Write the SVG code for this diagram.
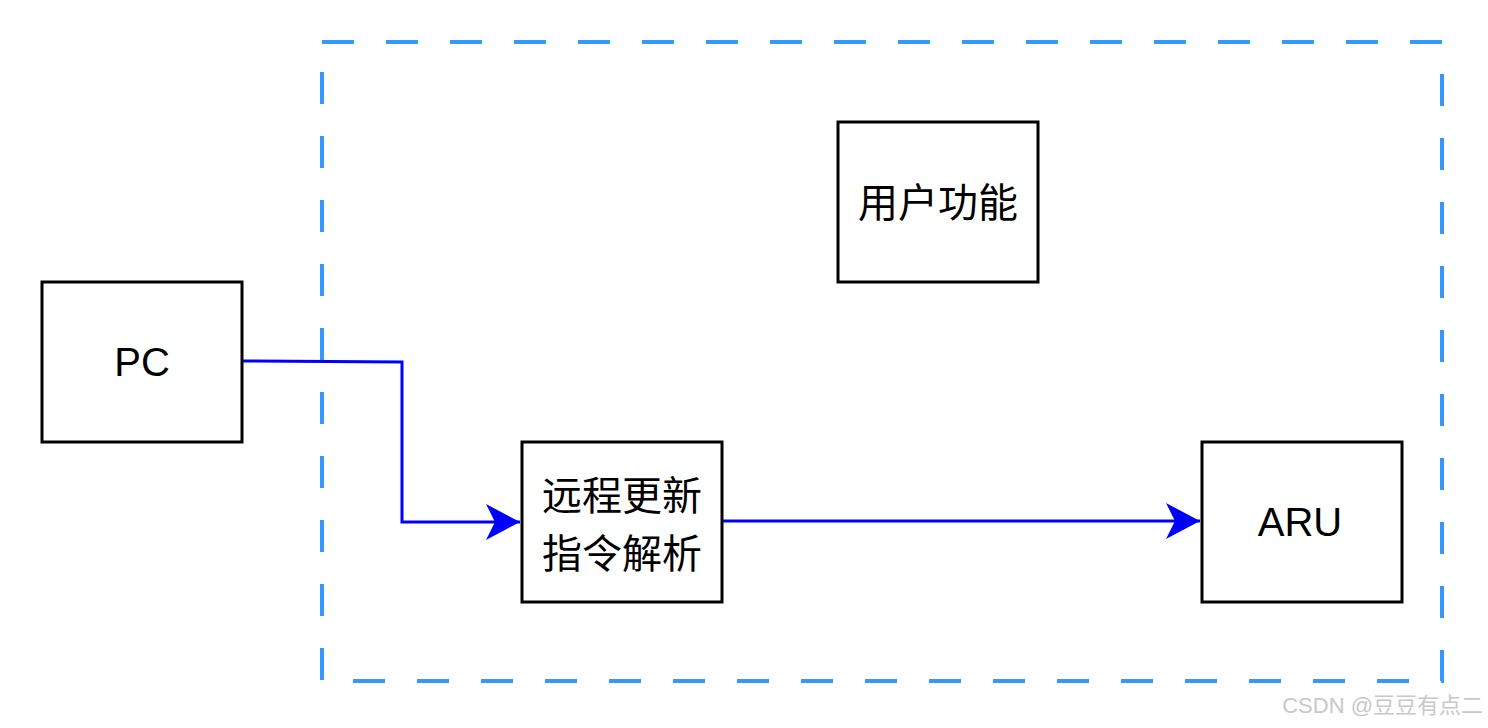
<svg xmlns="http://www.w3.org/2000/svg" width="1488" height="728" viewBox="0 0 1488 728">
<style>
.n{fill:#fff;stroke:#000;stroke-width:3}
.t{font-family:"Liberation Sans","Noto Sans CJK SC",sans-serif;font-size:40px;text-anchor:middle;fill:#000}
.c{fill:none;stroke:#0000ff;stroke-width:3}
</style>
<defs><marker id="a" markerWidth="12" markerHeight="12" refX="10" refY="6" orient="auto" markerUnits="userSpaceOnUse"><path d="M0,0 L12,6 L0,12 L3,6Z" fill="#0000ff"/></marker>
<marker id="b" markerWidth="36" markerHeight="36" refX="34" refY="18" orient="auto" markerUnits="userSpaceOnUse"><path d="M0,0 L34,18 L0,36 L9,18Z" fill="#0000ff"/></marker></defs>
<rect width="1488" height="728" fill="#fff"/>
<rect id="frame" x="322" y="42" width="1120" height="639" fill="none" stroke="#3399ff" stroke-width="4" stroke-dasharray="32 32"/>
<g id="user"><rect class="n" x="838" y="122" width="200" height="160"/><text class="t" x="938" y="217">用户功能</text></g>
<g id="pc"><rect class="n" x="42" y="282" width="200" height="160"/><text class="t" x="142" y="376">PC</text></g>
<g id="parse"><rect class="n" x="522" y="442" width="200" height="160"/><text class="t" x="622" y="510">远程更新</text><text class="t" x="622" y="568">指令解析</text></g>
<g id="aru"><rect class="n" x="1202" y="442" width="200" height="160"/><text class="t" x="1300" y="536">ARU</text></g>
<g id="connectors">
<path class="c" d="M243,361 L402,362 L402,522 L520,522" marker-end="url(#b)"/>
<path class="c" d="M723,521 L1200,521" marker-end="url(#b)"/>
</g>
<text x="1483" y="713" text-anchor="end" font-family="Liberation Sans,Noto Sans CJK SC,sans-serif" font-size="22" fill="#c8c8c8">CSDN @豆豆有点二</text>
</svg>
